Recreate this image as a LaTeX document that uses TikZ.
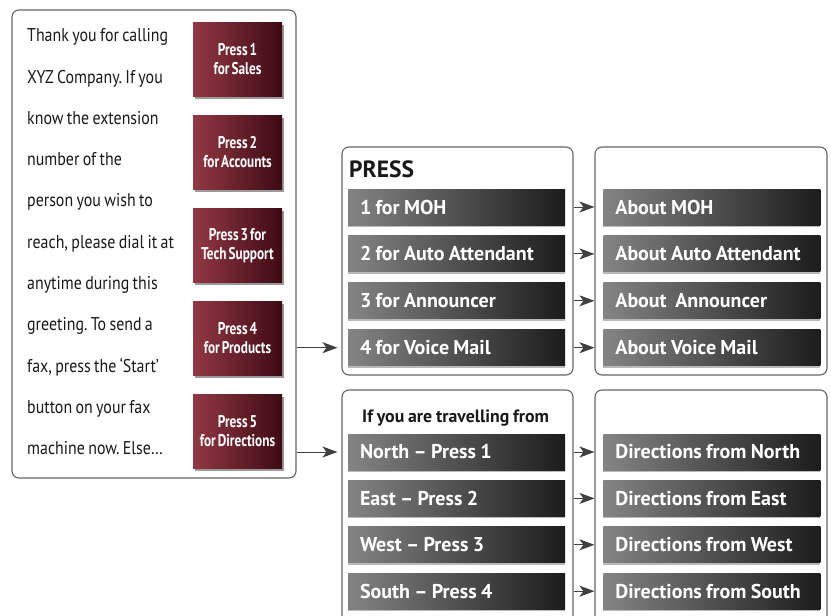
\documentclass[tikz,border=0pt]{standalone}
\usepackage{fontspec}
\setmainfont{PT Sans}
\newfontfamily\greetfont[FakeStretch=0.86, WordSpace=0.8, Ligatures=TeX]{PT Sans}
\newfontfamily\barfont[FakeStretch=1.0, WordSpace=0.85, Ligatures=TeX]{PT Sans}
\newfontfamily\btnfont[FakeStretch=0.78, WordSpace=0.6, Ligatures=TeX]{PT Sans}
\usetikzlibrary{positioning}
\usetikzlibrary{arrows.meta}
\usetikzlibrary{shadows}

\definecolor{barlight}{RGB}{132,132,132}
\definecolor{bardark}{RGB}{28,28,28}
\definecolor{btnlight}{RGB}{146,56,68}
\definecolor{btndark}{RGB}{62,10,20}

\begin{document}
\frenchspacing
\begin{tikzpicture}[x=1pt, y=-1pt,
	panel/.style={draw=black!60, line width=1.1pt, rounded corners=7pt, fill=white, inner sep=0pt},
	bar/.style={left color=barlight, right color=bardark, minimum height=36pt, text width=193pt, inner xsep=12pt, inner ysep=0pt, align=flush left, text=white, font=\barfont\bfseries\fontsize{20}{20}\selectfont, drop shadow={shadow xshift=0pt, shadow yshift=-2pt, opacity=0.55}},
	btn/.style={left color=btnlight, right color=btndark, minimum width=89pt, minimum height=74pt, align=center, text=white, font=\btnfont\bfseries\fontsize{17}{19}\selectfont, drop shadow={shadow xshift=1.5pt, shadow yshift=-2.5pt, opacity=0.8}},
	greetline/.style={anchor=base west, inner sep=0pt, text=black!90, font=\greetfont\fontsize{18.5}{18.5}\selectfont},
	arr/.style={-{Stealth[length=15pt, width=11pt, inset=4pt]}, draw=black!75, line width=0.9pt}]

	\useasboundingbox (0,0) rectangle (831,616);
	\clip (0,0) rectangle (831,616);

	% panels
	\node[panel, minimum width=284pt, minimum height=468pt] (greet) at (154,244) {};
	\node[panel, minimum width=231pt, minimum height=228pt] (pressbox) at (457.5,261) {};
	\node[panel, minimum width=232pt, minimum height=228pt] (aboutbox) at (711,261) {};
	\node[panel, minimum width=231pt, minimum height=250pt] (travelbox) at (457.5,515) {};
	\node[panel, minimum width=232pt, minimum height=250pt] (dirbox) at (711,515) {};

	% greeting
	\foreach \ln [count=\i] in {Thank you for calling, XYZ Company. If you, know the extension, number of the, person you wish to, {reach, please dial it at}, anytime during this, greeting. To send a, {fax, press the ‘Start’}, button on your fax, {machine now. Else\ldots}}
		\node[greetline] (g\i) at (27, 0.4+41.3*\i) {\ln};

	% buttons
	\node[btn] (b1) at (237.5,59.5) {Press 1\\for Sales};
	\node[btn, below=18.5pt of b1] (b2) {Press 2\\for Accounts};
	\node[btn, below=18.5pt of b2] (b3) {Press 3 for\\Tech Support};
	\node[btn, below=18.5pt of b3] (b4) {Press 4\\for Products};
	\node[btn, below=18.5pt of b4] (b5) {Press 5\\for Directions};

	% press menu
	\node[anchor=west, inner sep=0pt, text=black!90, font=\barfont\bfseries\fontsize{23.5}{23.5}\selectfont] (press) at (349,169) {PRESS};
	\node[bar] (m1) at (456.5,207) {1 for MOH};
	\node[bar, below=10.5pt of m1] (m2) {2 for Auto Attendant};
	\node[bar, below=10.5pt of m2] (m3) {3 for Announcer};
	\node[bar, below=10.5pt of m3] (m4) {4 for Voice Mail};

	\node[bar, right=38pt of m1] (a1) {About MOH};
	\node[bar, right=38pt of m2] (a2) {About Auto Attendant};
	\node[bar, right=38pt of m3] (a3) {About\ \ Announcer};
	\node[bar, right=38pt of m4] (a4) {About Voice Mail};

	% directions menu
	\node[anchor=west, inner sep=0pt, text=black!90, font=\barfont\bfseries\fontsize{17.8}{18}\selectfont] (travel) at (362,418) {If you are travelling from};
	\node[bar] (t1) at (456.5,452) {North -- Press 1};
	\node[bar, below=10pt of t1] (t2) {East -- Press 2};
	\node[bar, below=10pt of t2] (t3) {West -- Press 3};
	\node[bar, below=10pt of t3] (t4) {South -- Press 4};

	\node[bar, right=38pt of t1] (d1) {Directions from North};
	\node[bar, right=38pt of t2] (d2) {Directions from East};
	\node[bar, right=38pt of t3] (d3) {Directions from West};
	\node[bar, right=38pt of t4] (d4) {Directions from South};

	% connectors
	\draw[arr] (greet.east |- m4.west) -- ([xshift=-4pt]pressbox.west |- m4.west);
	\draw[arr] (greet.east |- t1.west) -- ([xshift=-4pt]travelbox.west |- t1.west);
	\foreach \i in {1,...,4} {
		\draw[arr] (pressbox.east |- m\i.west) -- (aboutbox.west |- a\i.west);
		\draw[arr] (travelbox.east |- t\i.west) -- (dirbox.west |- d\i.west);
	}
\end{tikzpicture}
\end{document}
